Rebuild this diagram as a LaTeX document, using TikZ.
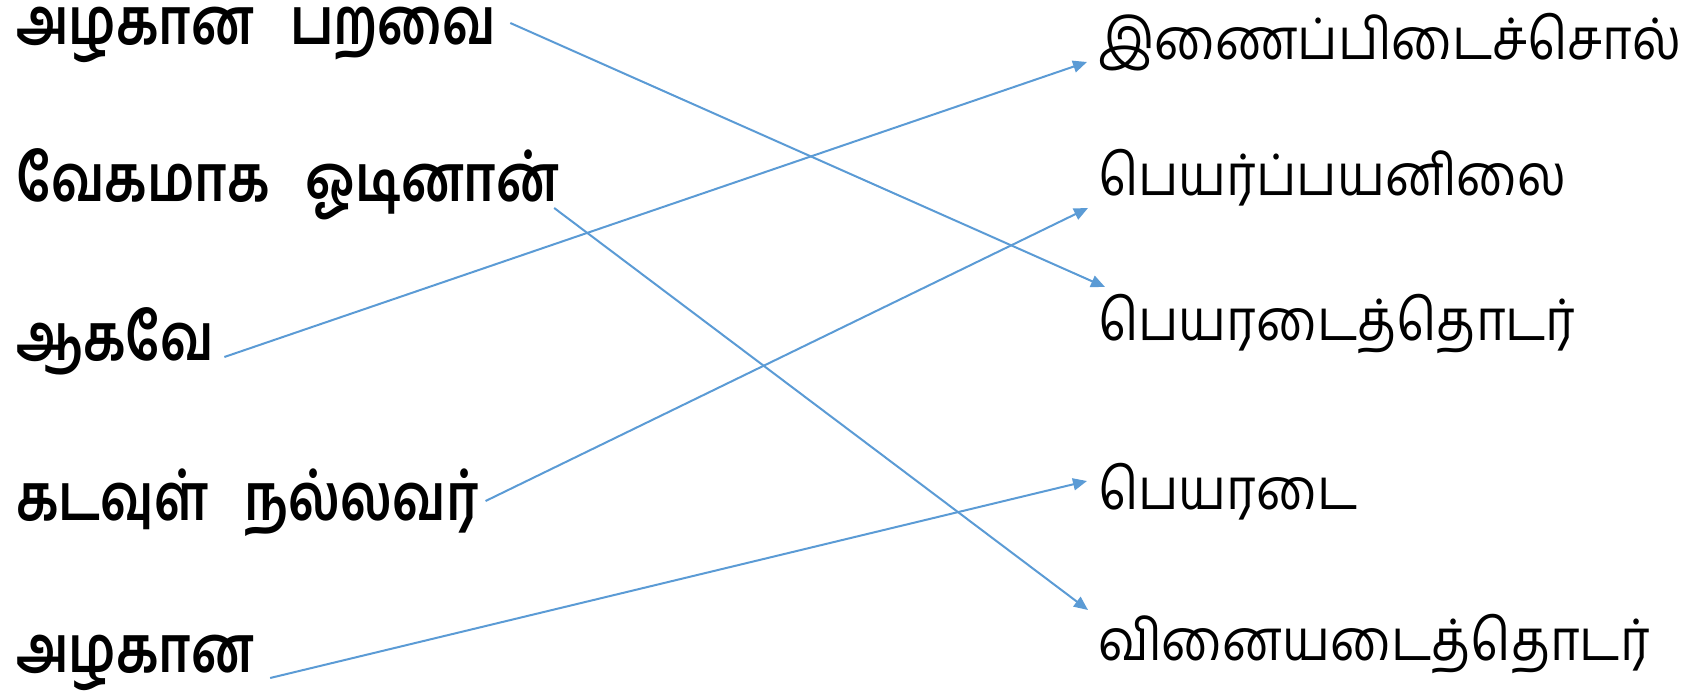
\documentclass[tikz,border=0pt]{standalone}
\usepackage{fontspec}
\usepackage{tikz}
\usetikzlibrary{arrows.meta}
\newfontfamily\tamil[Script=Tamil]{Hind Madurai}
\definecolor{linkblue}{HTML}{5B9BD5}
\newcommand{\gap}{\hspace{0.7em}}
\tikzset{%
	phrase/.style={
		anchor=base west,
		inner sep=0pt,
		yscale=1.25,
		font=\tamil\bfseries\fontsize{52}{60}\selectfont
	},
	gram/.style={
		anchor=base west,
		inner sep=0pt,
		yscale=1.12,
		font=\tamil\fontsize{51}{60}\selectfont
	},
	link/.style={
		draw=linkblue,
		line width=2pt,
		-{Triangle[length=14pt,width=12pt]}
	},
}
\begin{document}
\begin{tikzpicture}[x=1pt,y=-1pt]
			\useasboundingbox (0,0) rectangle (1691,695);
			% Draw the phrases on the left
			\node[phrase] (p1) at (16,45) {அழகான\gap பறவை};
			\node[phrase] (p2) at (16,201) {வேகமாக\gap ஓடினான்};
			\node[phrase] (p3) at (16,360) {ஆகவே};
			\node[phrase] (p4) at (16,520) {கடவுள்\gap நல்லவர்};
			\node[phrase] (p5) at (16,672) {அழகான};
			
			% Draw the grammar names on the right
			\node[gram] (q1) at (1098,60) {இணைப்பிடைச்சொல்};
			\node[gram] (q2) at (1098,196) {பெயர்ப்பயனிலை};
			\node[gram] (q3) at (1098,340) {பெயரடைத்தொடர்};
			\node[gram] (q4) at (1098,509) {பெயரடை};
			\node[gram] (q5) at (1098,660) {வினையடைத்தொடர்};
			
			% Draw the links
			\draw[link] ([xshift=14pt,yshift=22pt]p1.base east) -- ([xshift=7pt,yshift=53pt]q3.base west);
			\draw[link] ([xshift=-5pt,yshift=-7pt]p2.base east) -- ([xshift=-10pt,yshift=50pt]q5.base west);
			\draw[link] ([xshift=10pt,yshift=3pt]p3.base east) -- ([xshift=-11pt,yshift=-2pt]q1.base west);
			\draw[link] ([xshift=7pt,yshift=19pt]p4.base east) -- ([xshift=-10pt,yshift=-12pt]q2.base west);
			\draw[link] ([xshift=16pt,yshift=-6pt]p5.base east) -- ([xshift=-11pt,yshift=28pt]q4.base west);
		\end{tikzpicture}
\end{document}
